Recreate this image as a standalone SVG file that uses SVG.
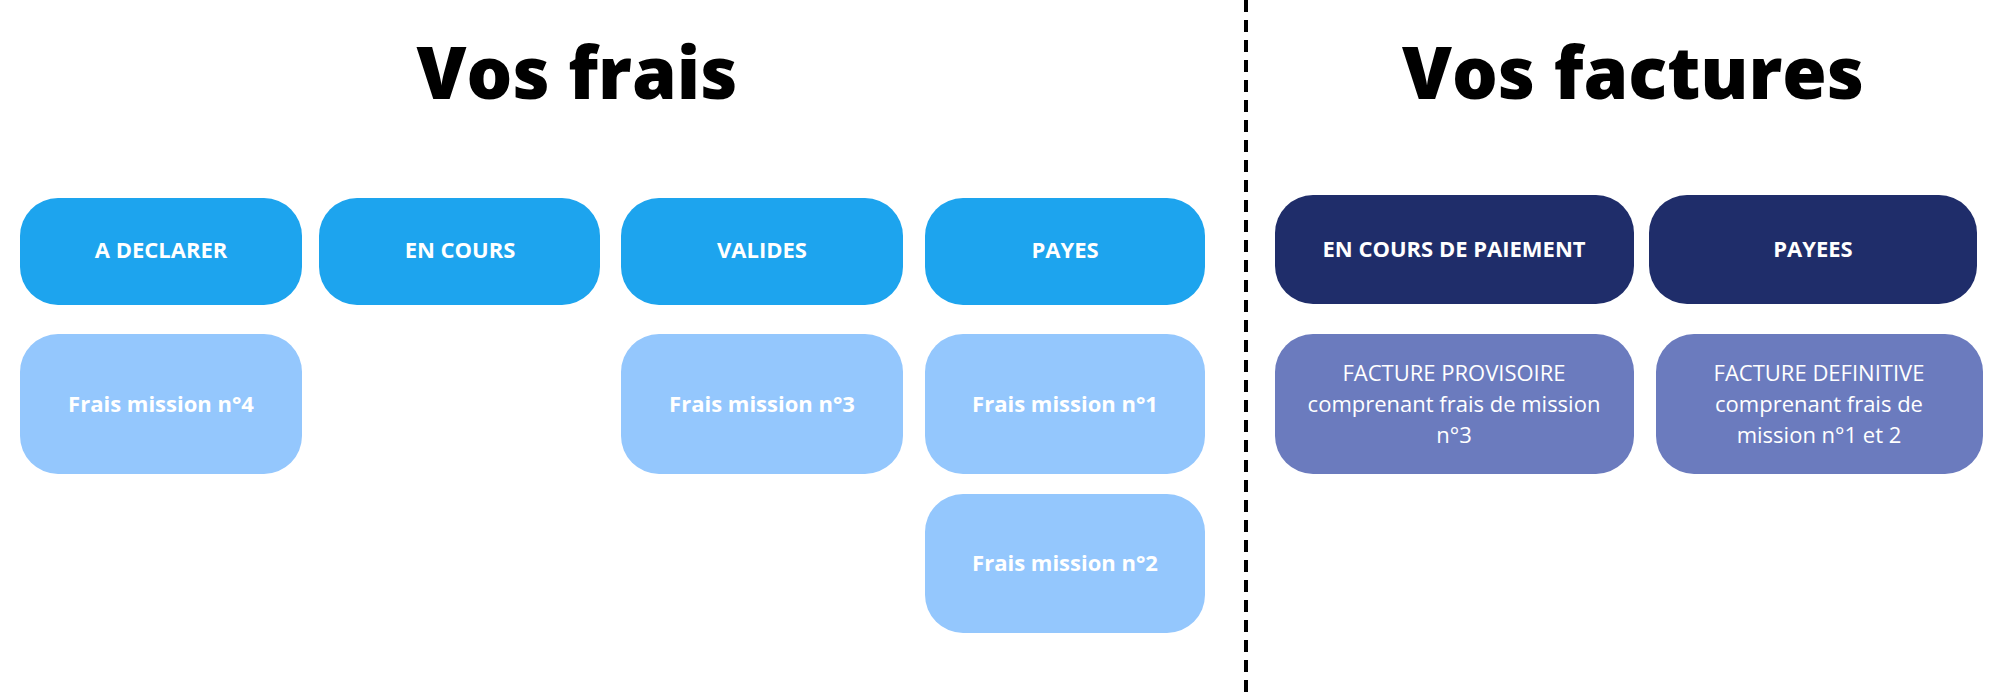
<svg xmlns="http://www.w3.org/2000/svg" width="2000" height="697" viewBox="0 0 2000 697">
<style>
.t{font-family:"Open Sans","Liberation Sans",sans-serif;font-weight:800;font-size:72px;fill:#000;text-anchor:middle}
.l{font-family:"Open Sans","Liberation Sans",sans-serif;font-weight:700;font-size:22px;fill:#fff;text-anchor:middle}
.r{font-family:"Open Sans","Liberation Sans",sans-serif;font-weight:400;font-size:22px;fill:#fff;text-anchor:middle}
.a{fill:#1DA4EE}.b{fill:#94C7FD}.c{fill:#1F2D6A}.d{fill:#6B7BBE}
</style>
<rect width="2000" height="697" fill="#fff"/>
<text class="t" x="577" y="99">Vos frais</text>
<text class="t" x="1633" y="99">Vos factures</text>
<g id="connectors"><line x1="1246" y1="0" x2="1246" y2="697" stroke="#000" stroke-width="4" stroke-dasharray="12,8"/></g>
<g id="n1"><rect class="a" x="20" y="198" width="282" height="107" rx="38"/><text class="l" x="161" y="258">A DECLARER</text></g>
<g id="n2"><rect class="a" x="319" y="198" width="281" height="107" rx="38"/><text class="l" x="460" y="258">EN COURS</text></g>
<g id="n3"><rect class="a" x="621" y="198" width="282" height="107" rx="38"/><text class="l" x="762" y="258">VALIDES</text></g>
<g id="n4"><rect class="a" x="925" y="198" width="280" height="107" rx="38"/><text class="l" x="1065" y="258">PAYES</text></g>
<g id="n5"><rect class="b" x="20" y="334" width="282" height="140" rx="38"/><text class="l" x="161" y="412">Frais mission n°4</text></g>
<g id="n6"><rect class="b" x="621" y="334" width="282" height="140" rx="38"/><text class="l" x="762" y="412">Frais mission n°3</text></g>
<g id="n7"><rect class="b" x="925" y="334" width="280" height="140" rx="38"/><text class="l" x="1065" y="412">Frais mission n°1</text></g>
<g id="n8"><rect class="b" x="925" y="494" width="280" height="139" rx="38"/><text class="l" x="1065" y="571">Frais mission n°2</text></g>
<g id="n9"><rect class="c" x="1275" y="195" width="359" height="109" rx="38"/><text class="l" x="1454" y="257">EN COURS DE PAIEMENT</text></g>
<g id="n10"><rect class="c" x="1649" y="195" width="328" height="109" rx="38"/><text class="l" x="1813" y="257">PAYEES</text></g>
<g id="n11"><rect class="d" x="1275" y="334" width="359" height="140" rx="38"/><text class="r" x="1454" y="381">FACTURE PROVISOIRE</text><text class="r" x="1454" y="412">comprenant frais de mission</text><text class="r" x="1454" y="443">n°3</text></g>
<g id="n12"><rect class="d" x="1656" y="334" width="327" height="140" rx="38"/><text class="r" x="1819" y="381">FACTURE DEFINITIVE</text><text class="r" x="1819" y="412">comprenant frais de</text><text class="r" x="1819" y="443">mission n°1 et 2</text></g>
</svg>
